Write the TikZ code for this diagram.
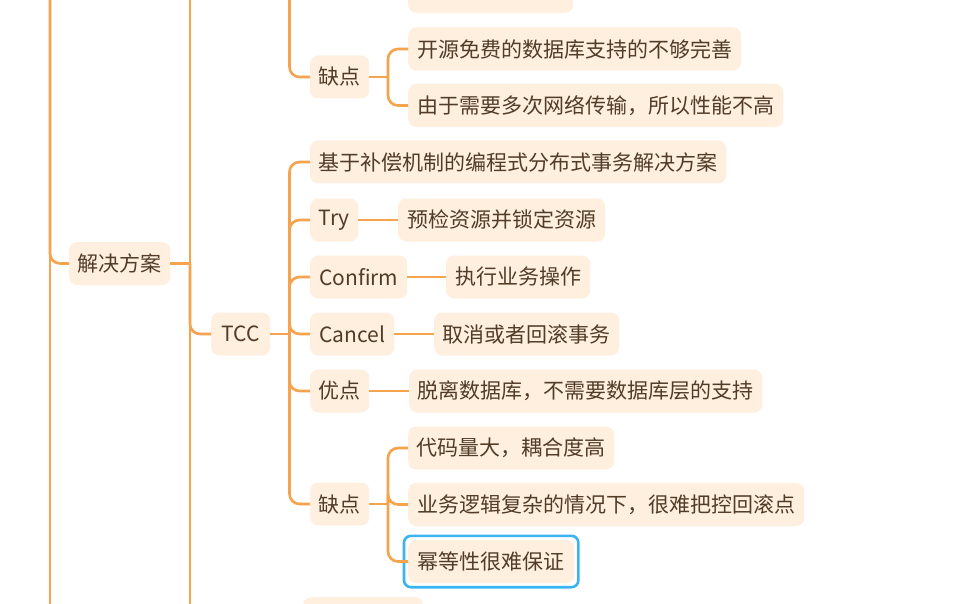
\documentclass[tikz,border=0pt]{standalone}
\usepackage{fontspec}
\setmainfont{Noto Sans CJK SC}
\definecolor{branch}{RGB}{246,163,78}
\definecolor{topicfill}{RGB}{254,239,223}
\definecolor{topictext}{RGB}{82,60,40}
\definecolor{selblue}{RGB}{58,180,240}
\tikzset{
  topic/.style={fill=topicfill, rounded corners=8, minimum height=43, inner xsep=0,
    inner ysep=0, text=topictext, anchor=west, font=\fontsize{21}{25}\selectfont},
  link/.style={draw=branch, line width=2.6, rounded corners=10},
  selected/.style={draw=selblue, line width=2.6, rounded corners=7}
}
\begin{document}
\begin{tikzpicture}[x=1pt,y=-1pt]
\useasboundingbox (0,0) rectangle (971,604);
\clip (0,0) rectangle (971,604);
\fill[white] (0,0) rectangle (971,604);

% level 1
\node[topic, minimum width=101] (jjfa) at (69,263.5) {解决方案};
% level 2
\node[topic, minimum width=59] (tcc) at (211,334) {TCC};

% previous sibling branch (mostly above the top edge)
\node[topic, minimum width=59] (qd1) at (310,77) {缺点};
\node[topic, minimum width=165, anchor=south west] (prev) at (408,13) {};
\node[topic, minimum width=333] (a1) at (408,49) {开源免费的数据库支持的不够完善};
\node[topic, minimum width=375] (a2) at (408,105.5) {由于需要多次网络传输，所以性能不高};

% TCC children
\node[topic, minimum width=416] (desc) at (310,162) {基于补偿机制的编程式分布式事务解决方案};
\node[topic, minimum width=48] (try) at (310,220) {Try};
\node[topic, minimum width=207] (tryc) at (398,220) {预检资源并锁定资源};
\node[topic, minimum width=97] (conf) at (310,277) {Confirm};
\node[topic, minimum width=144] (confc) at (446,277) {执行业务操作};
\node[topic, minimum width=84] (canc) at (310,334) {Cancel};
\node[topic, minimum width=185] (cancc) at (434,334) {取消或者回滚事务};
\node[topic, minimum width=59] (yd) at (310,391) {优点};
\node[topic, minimum width=353] (ydc) at (409,391) {脱离数据库，不需要数据库层的支持};
\node[topic, minimum width=59] (qd2) at (310,504) {缺点};
\node[topic, minimum width=206] (c1) at (408,448) {代码量大，耦合度高};
\node[topic, minimum width=396] (c2) at (408,504.5) {业务逻辑复杂的情况下，很难把控回滚点};
\node[topic, minimum width=166] (c3) at (408,561.5) {幂等性很难保证};
\draw[selected] ([shift={(-4,-4)}]c3.north west) rectangle ([shift={(4,4)}]c3.south east);

% next sibling (mostly below the bottom edge)
\node[topic, minimum width=120, anchor=north west] (next) at (303,597) {};

% junction points
\coordinate (rootTop) at (50,-20);
\coordinate (rootBot) at (50,624);
\coordinate (j1) at (190,263.5);
\coordinate (j1Top) at (190,-20);
\coordinate (j1Bot) at (190,624);
\coordinate (j2) at (289.5,334);
\coordinate (j0) at (289.5,-20);
\coordinate (k1) at (388,77);
\coordinate (k2) at (388,504);

% connectors
\draw[link] (rootTop) -- (rootBot);
\draw[link] (rootTop) |- (jjfa.west);
\draw[link] (j1Top) -- (j1Bot);
\draw[link] (jjfa.east) -- (j1);
\draw[link] (j1) |- (tcc.west);
\draw[link] (j0) |- (qd1.west);
\draw[link] (qd1.east) -- (k1);
\draw[link] (k1) |- (a1.west);
\draw[link] (k1) |- (a2.west);
\draw[link] (tcc.east) -- (j2);
\foreach \n in {desc,try,conf,canc,yd,qd2} \draw[link] (j2) |- (\n.west);
\draw[link] (try.east) -- (tryc.west);
\draw[link] (conf.east) -- (confc.west);
\draw[link] (canc.east) -- (cancc.west);
\draw[link] (yd.east) -- (ydc.west);
\draw[link] (qd2.east) -- (k2);
\foreach \n in {c1,c2,c3} \draw[link] (k2) |- (\n.west);
\end{tikzpicture}
\end{document}
